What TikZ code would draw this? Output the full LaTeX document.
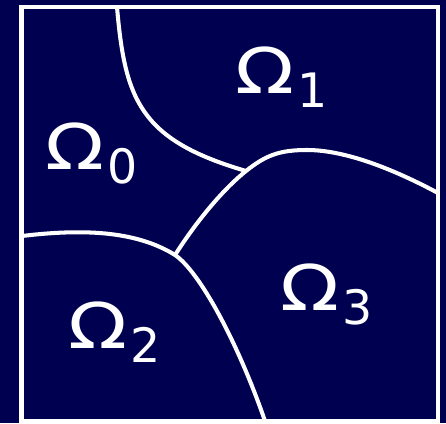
\documentclass[tikz,border=0pt]{standalone}
\usepackage{fontspec}
\setmainfont{DejaVu Sans}
\definecolor{fond}{RGB}{0,0,80}
\newcommand{\dom}[1]{{\fontsize{36}{36}\selectfont \scalebox{1.22}[1]{Ω}\kern2pt\raisebox{-8pt}{\fontsize{27}{27}\selectfont #1}}}
\begin{document}
\begin{tikzpicture}[x=0.02cm,y=-0.02cm]
    %%%%%%%%%%%%%%%%%%%%%%%%%%%%%%%%%%%%%% Fond
    \fill[fond] (0,0) rectangle (446,423);
    \useasboundingbox (0,0) rectangle (446,423);

    \tikzstyle{frontiere}=[white,line width=2.3pt]
    \tikzstyle{bord}=[white,line width=2.8pt]
    \tikzstyle{nom}=[text=white,inner sep=0pt,anchor=base west]

    %%%%%%%%%%%%%%%%%%%%%%%%%%%%%%%%%%%%%% Points triples
    \coordinate (j1) at (246,171);
    \coordinate (j2) at (175,255);

    %%%%%%%%%%%%%%%%%%%%%%%%%%%%%%%%%%%%%% Frontieres
    \draw[frontiere] (117,7) .. controls (125,100) and (140,140) .. (j1);
    \draw[frontiere] (j2) .. controls (200,216) and (226,187) .. (j1)
        .. controls (266,155) and (280,150) .. (307,150)
        .. controls (347,150) and (397,171) .. (438,193);
    \draw[frontiere] (22,236) .. controls (80,229) and (135,230) .. (j2)
        .. controls (200,272) and (238,343) .. (265,421);

    %%%%%%%%%%%%%%%%%%%%%%%%%%%%%%%%%%%%%% Carre
    \draw[bord] (21.5,7) rectangle (438,421);

    %%%%%%%%%%%%%%%%%%%%%%%%%%%%%%%%%%%%%% Domaines
    \node[nom] (om0) at (45,169) {\dom{0}};
    \node[nom] (om1) at (235,93) {\dom{1}};
    \node[nom] (om2) at (68,348) {\dom{2}};
    \node[nom] (om3) at (280,310) {\dom{3}};
\end{tikzpicture}
\end{document}
